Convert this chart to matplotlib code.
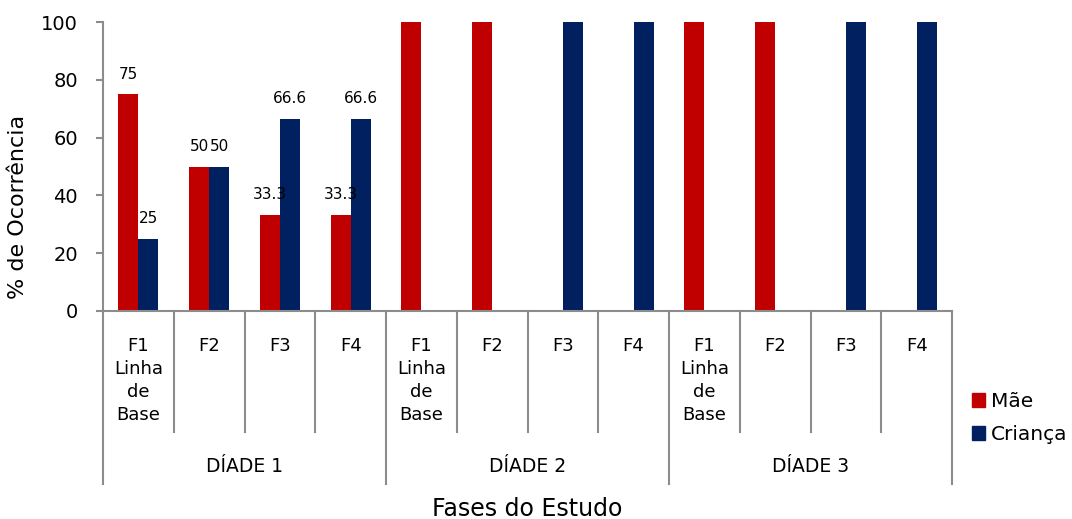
import matplotlib
matplotlib.use("Agg")
import matplotlib.pyplot as plt
from matplotlib.lines import Line2D
from matplotlib.patches import Patch
import numpy as np

phases = ["F1\nLinha\nde\nBase", "F2", "F3", "F4"]
groups = ["DÍADE 1", "DÍADE 2", "DÍADE 3"]
mae = [75, 50, 33.3, 33.3, 100, 100, 0, 0, 100, 100, 0, 0]
crianca = [25, 50, 66.6, 66.6, 0, 0, 100, 100, 0, 0, 100, 100]
mae_labels = ["75", "50", "33.3", "33.3"]
crianca_labels = ["25", "50", "66.6", "66.6"]
yticks = [0, 20, 40, 60, 80, 100]

RED = "#C00000"
BLUE = "#002060"
GREY = "#8C8C8C"

W, H = 1072, 519
fig = plt.figure(figsize=(W / 100, H / 100), dpi=100)
L, R, B, T = 103, 952, 311, 22
ax = fig.add_axes([L / W, 1 - B / H, (R - L) / W, (B - T) / H])

n = len(mae)
x = np.arange(n)
bw = 0.283
ax.bar(x - bw / 2, mae, width=bw, color=RED, label="Mãe")
ax.bar(x + bw / 2, crianca, width=bw, color=BLUE, label="Criança")

ax.set_xlim(-0.5, n - 0.5)
ax.set_ylim(0, 100)
ax.set_yticks(yticks)
ax.set_yticklabels([str(v) for v in yticks], fontsize=14)
ax.set_xticks([])
for s in ["top", "right"]:
    ax.spines[s].set_visible(False)
for s in ["left", "bottom"]:
    ax.spines[s].set_color(GREY)
    ax.spines[s].set_linewidth(1.5)
ax.tick_params(axis="y", length=5, color=GREY, width=1.5, pad=13)

# data labels (Díade 1 only)
for i in range(4):
    ax.annotate(mae_labels[i], (x[i] - bw / 2, mae[i]), xytext=(0, 14.5),
                textcoords="offset points", ha="center", va="center", fontsize=11)
    ax.annotate(crianca_labels[i], (x[i] + bw / 2, crianca[i]), xytext=(0, 14.5),
                textcoords="offset points", ha="center", va="center", fontsize=11)

def ay(py):
    return (B - py) / (B - T)

tr = ax.get_xaxis_transform()
# category dividers
for k in range(n + 1):
    xb = k - 0.5
    bottom = 484 if k % 4 == 0 else 432
    ax.add_line(Line2D([xb, xb], [0, ay(bottom)], transform=tr, color=GREY,
                       lw=1.5, clip_on=False))
# category labels
for i in range(n):
    ax.text(x[i], ay(337), phases[i % 4], transform=tr, ha="center", va="top",
            fontsize=13, linespacing=1.36)
# group labels
for g, name in enumerate(groups):
    ax.text(g * 4 + 1.5, ay(467), name, transform=tr, ha="center", va="center",
            fontsize=13.5)

fig.text((L + R) / 2 / W, 1 - 509 / H, "Fases do Estudo", ha="center",
         va="center", fontsize=17)
fig.text(18 / W, 1 - 207 / H, "% de Ocorrência", ha="center", va="center",
         rotation=90, fontsize=16)

handles = [Patch(color=RED, label="Mãe"), Patch(color=BLUE, label="Criança")]
fig.legend(handles=handles, loc="center left",
           bbox_to_anchor=(972 / W, 1 - 418 / H), frameon=False, fontsize=14.5,
           borderpad=0, borderaxespad=0,
           handlelength=0.65, handleheight=0.65, handletextpad=0.3,
           labelspacing=0.7)

fig.savefig("out.png", dpi=100)
